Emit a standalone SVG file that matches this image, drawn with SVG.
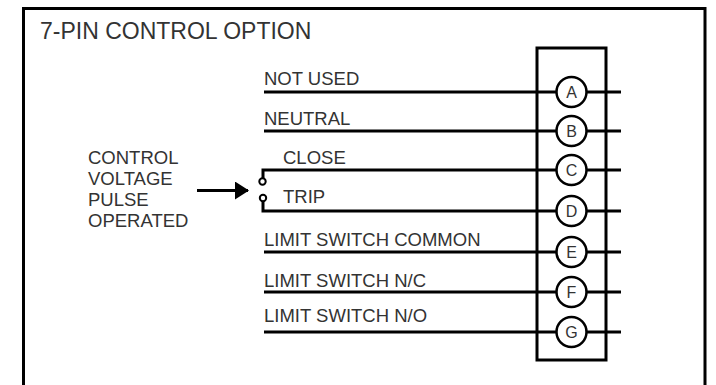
<svg xmlns="http://www.w3.org/2000/svg" width="716" height="385" viewBox="0 0 716 385">
<style>
  text { font-family: "Liberation Sans", Arial, sans-serif; fill: #333; }
  .lbl { font-size: 18.5px; }
  .pin { font-size: 16px; text-anchor: middle; }
  .title { font-size: 23px; }
  .wire { stroke: #000; stroke-width: 3; fill: none; }
  .box { stroke: #000; stroke-width: 3; fill: none; }
  .pc { stroke: #000; stroke-width: 2.5; fill: #fff; }
  .ct { stroke: #000; stroke-width: 2; fill: #fff; }
</style>
<defs>
  <marker id="ah" markerWidth="14" markerHeight="18" refX="13" refY="9" orient="auto" markerUnits="userSpaceOnUse">
    <path d="M0,0 L14,9 L0,18 Z" fill="#000"/>
  </marker>
</defs>
<rect width="716" height="385" fill="#fff"/>
<g id="frame">
  <path class="box" d="M23.5,385 V8.5 H705 V385"/>
</g>
<g id="title"><text class="title" x="40" y="39">7-PIN CONTROL OPTION</text></g>
<g id="connectors">
  <path class="wire" d="M264,92 H621"/>
  <path class="wire" d="M264,131 H621"/>
  <path class="wire" d="M263,178 V170 H621"/>
  <path class="wire" d="M263,201 V211 H621"/>
  <path class="wire" d="M264,252 H621"/>
  <path class="wire" d="M264,292 H621"/>
  <path class="wire" d="M264,332 H621"/>
  <path d="M197,190.5 H248" stroke="#000" stroke-width="3" marker-end="url(#ah)"/>
</g>
<g id="terminal-block">
  <rect class="box" x="537" y="48" width="69" height="312"/>
</g>
<g id="pin-A"><circle class="pc" cx="571.5" cy="92" r="15"/><text class="pin" x="571.5" y="98">A</text></g>
<g id="pin-B"><circle class="pc" cx="571.5" cy="131" r="15"/><text class="pin" x="571.5" y="137">B</text></g>
<g id="pin-C"><circle class="pc" cx="571.5" cy="170" r="15"/><text class="pin" x="571.5" y="176">C</text></g>
<g id="pin-D"><circle class="pc" cx="571.5" cy="211" r="15"/><text class="pin" x="571.5" y="217">D</text></g>
<g id="pin-E"><circle class="pc" cx="571.5" cy="252" r="15"/><text class="pin" x="571.5" y="258">E</text></g>
<g id="pin-F"><circle class="pc" cx="571.5" cy="292" r="15"/><text class="pin" x="571.5" y="298">F</text></g>
<g id="pin-G"><circle class="pc" cx="571.5" cy="332" r="15"/><text class="pin" x="571.5" y="338">G</text></g>
<g id="labels">
  <text class="lbl" x="264" y="85">NOT USED</text>
  <text class="lbl" x="264" y="125">NEUTRAL</text>
  <text class="lbl" x="283" y="164">CLOSE</text>
  <text class="lbl" x="283" y="203">TRIP</text>
  <text class="lbl" x="264" y="246">LIMIT SWITCH COMMON</text>
  <text class="lbl" x="264" y="287">LIMIT SWITCH N/C</text>
  <text class="lbl" x="264" y="322">LIMIT SWITCH N/O</text>
</g>
<g id="switch">
  <circle class="ct" cx="262.5" cy="181.5" r="3.2"/>
  <circle class="ct" cx="263" cy="198" r="3.2"/>
</g>
<g id="control-label">
  <text class="lbl" x="88" y="164">CONTROL</text>
  <text class="lbl" x="88" y="185">VOLTAGE</text>
  <text class="lbl" x="88" y="206">PULSE</text>
  <text class="lbl" x="88" y="227">OPERATED</text>
</g>
</svg>
